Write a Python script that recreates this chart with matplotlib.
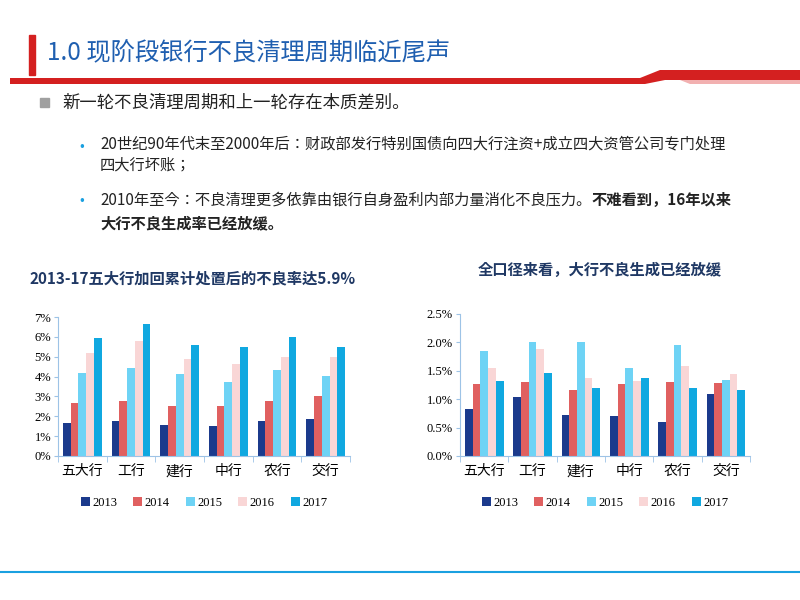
import matplotlib.pyplot as plt
from matplotlib import font_manager
from matplotlib.patches import Polygon, Rectangle
from matplotlib.lines import Line2D
import numpy as np

names = sorted({f.name for f in font_manager.fontManager.ttflist if 'CJK' in f.name})
plt.rcParams['font.family'] = ['Noto Sans CJK SC', 'Noto Sans CJK JP'] + names + ['DejaVu Sans']
W, H = 800, 600

banks = ['五大行', '工行', '建行', '中行', '农行', '交行']
years = ['2013', '2014', '2015', '2016', '2017']
colors = ['#1B3A8C', '#E06060', '#6ED3F5', '#F9D6D6', '#10A8E0']

npl_1 = [[1.65, 1.75, 1.57, 1.50, 1.75, 1.88],
         [2.68, 2.77, 2.52, 2.50, 2.77, 3.00],
         [4.18, 4.45, 4.15, 3.75, 4.33, 4.02],
         [5.20, 5.80, 4.90, 4.65, 5.00, 5.00],
         [5.95, 6.65, 5.60, 5.50, 6.00, 5.50]]
npl_2 = [[0.82, 1.04, 0.73, 0.70, 0.59, 1.10],
         [1.27, 1.30, 1.17, 1.26, 1.31, 1.28],
         [1.85, 2.00, 2.00, 1.55, 1.95, 1.33],
         [1.55, 1.88, 1.37, 1.32, 1.59, 1.44],
         [1.32, 1.46, 1.20, 1.38, 1.19, 1.16]]
ticks_1 = [0, 1, 2, 3, 4, 5, 6, 7]
ticks_2 = [0, 0.5, 1.0, 1.5, 2.0, 2.5]

fig = plt.figure(figsize=(8, 6), dpi=100)
bg = fig.add_axes([0, 0, 1, 1])
bg.set_xlim(0, W); bg.set_ylim(H, 0); bg.axis('off')

# header decoration
bg.add_patch(Rectangle((29, 35), 6, 40, color='#D42020'))
bg.add_patch(Polygon([(10, 78), (640, 78), (660, 70), (800, 70), (800, 80), (665, 80), (645, 84), (10, 84)],
                     closed=True, color='#D42020', lw=0))
bg.add_patch(Polygon([(680, 80), (800, 80), (800, 84), (690, 84)], closed=True, color='#F2B0B0', lw=0))
bg.text(47, 53, '1.0 现阶段银行不良清理周期临近尾声', fontsize=17.5, color='#1F5FB0', va='center')
bg.add_line(Line2D([0, 800], [572, 572], color='#1AA0E0', lw=1.5))

bg.add_patch(Rectangle((40, 98), 9, 9, color='#A0A0A0'))
bg.text(62, 103, '新一轮不良清理周期和上一轮存在本质差别。', fontsize=12.5, va='center', color='#222222')
bg.text(79, 146, '•', color='#1AA0E0', fontsize=10, va='center')
bg.text(100, 135, '20世纪90年代末至2000年后：财政部发行特别国债向四大行注资+成立四大资管公司专门处理\n四大行坏账；',
        fontsize=11, va='top', linespacing=1.35, color='#222222')
bg.text(79, 200, '•', color='#1AA0E0', fontsize=10, va='center')
t = bg.text(100, 200, '2010年至今：不良清理更多依靠由银行自身盈利内部力量消化不良压力。', fontsize=11, va='center', color='#222222')
bg.annotate('不难看到，16年以来', xy=(1, 0.5), xycoords=t, va='center', fontsize=11, weight='bold', color='#222222')
bg.text(100, 223, '大行不良生成率已经放缓。', fontsize=11, va='center', weight='bold', color='#222222')

bg.text(30, 278, '2013-17五大行加回累计处置后的不良率达5.9%', fontsize=11, weight='bold', color='#1F3864', va='center')
bg.text(478, 270, '全口径来看，大行不良生成已经放缓', fontsize=11, weight='bold', color='#1F3864', va='center')


def draw(rect, data, ticks, fmt, leg_y):
    ax = fig.add_axes([rect[0] / W, 1 - rect[3] / H, (rect[2] - rect[0]) / W, (rect[3] - rect[1]) / H])
    x = np.arange(len(banks))
    bw = 0.16
    for i, yr in enumerate(years):
        ax.bar(x + (i - 2) * bw, data[i], bw, color=colors[i], label=yr)
    ax.set_xlim(-0.5, len(banks) - 0.5)
    ax.set_ylim(0, ticks[-1])
    ax.set_yticks(ticks)
    ax.set_yticklabels([fmt.format(t) for t in ticks], fontfamily='Liberation Serif', fontsize=9)
    ax.set_xticks(x)
    ax.set_xticklabels(banks, fontsize=10)
    ax.set_xticks(np.arange(len(banks) + 1) - 0.5, minor=True)
    ax.tick_params(axis='x', which='major', length=0, pad=6)
    ax.tick_params(axis='x', which='minor', length=4, color='#9DC3E6')
    ax.tick_params(axis='y', length=3, color='#9DC3E6', pad=2)
    for s in ['top', 'right']:
        ax.spines[s].set_visible(False)
    for s in ['left', 'bottom']:
        ax.spines[s].set_color('#9DC3E6')
    ax.patch.set_alpha(0)
    ax.legend(ncol=5, loc='center', bbox_to_anchor=(0.5, -(leg_y - rect[3]) / (rect[3] - rect[1])),
              frameon=False, handlelength=0.7, handleheight=0.7, columnspacing=1.3, handletextpad=0.2,
              prop={'family': 'Liberation Serif', 'size': 9})
    return ax


draw((58, 317, 350, 456), npl_1, ticks_1, '{:.0f}%', 503)
draw((460, 314, 750, 456), npl_2, ticks_2, '{:.1f}%', 503)

fig.savefig('out.png', dpi=100)
